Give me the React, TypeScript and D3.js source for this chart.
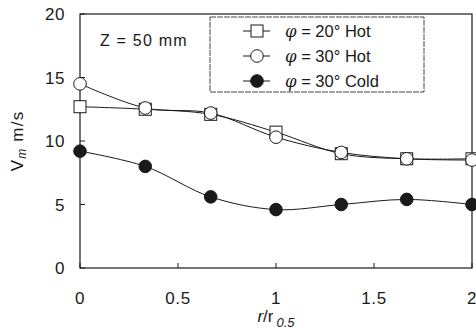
import React from "react";
import * as d3 from "d3";

const radius = [0, 0.333, 0.667, 1, 1.333, 1.667, 2];
const hot20 = [12.7, 12.5, 12.1, 10.7, 9.0, 8.6, 8.6];
const hot30 = [14.5, 12.6, 12.2, 10.3, 9.1, 8.6, 8.5];
const cold30 = [9.2, 8.0, 5.6, 4.6, 5.0, 5.4, 5.0];
const xTicks = [0, 0.5, 1, 1.5, 2];
const yTicks = [0, 5, 10, 15, 20];
const seriesNames = ["\u03c6 = 20\u00b0 Hot", "\u03c6 = 30\u00b0 Hot", "\u03c6 = 30\u00b0 Cold"];

const W = 476;
const H = 331;
const margin = { top: 14, right: 4, bottom: 63, left: 80 };
const font = "'Liberation Sans', Arial, sans-serif";
const ink = "#1a1a1a";

const Marker = ({ kind, x, y }: { kind: number; x: number; y: number }) => {
  if (kind === 0)
    return <rect x={x - 6} y={y - 6} width={12} height={12} fill="#fff" stroke={ink} strokeWidth={1} />;
  return <circle cx={x} cy={y} r={6.3} fill={kind === 2 ? ink : "#fff"} stroke={ink} strokeWidth={1} />;
};

const App = () => {
  const iw = W - margin.left - margin.right;
  const ih = H - margin.top - margin.bottom;
  const x = d3.scaleLinear().domain([0, 2]).range([0, iw]);
  const y = d3.scaleLinear().domain([0, 20]).range([ih, 0]);
  const line = d3
    .line<number>()
    .x((_, i) => x(radius[i]))
    .y((d) => y(d))
    .curve(d3.curveCatmullRom);

  const series = [hot20, hot30, cold30];

  return (
    <svg width={W} height={H} style={{ position: "absolute", left: 0, top: 0 }} fontFamily={font}>
      <rect width={W} height={H} fill="#fff" />
      <g transform={`translate(${margin.left},${margin.top})`}>
        <rect x={0} y={0} width={iw} height={ih} fill="none" stroke={ink} strokeWidth={1.2} />
        {xTicks.map((t) => (
          <g key={"x" + t}>
            <line x1={x(t)} x2={x(t)} y1={ih} y2={ih - 5} stroke={ink} />
            <text x={x(t)} y={ih + 36} textAnchor="middle" fontSize={17} letterSpacing={0.6} fill={ink}>
              {t}
            </text>
          </g>
        ))}
        {yTicks.map((t) => (
          <g key={"y" + t}>
            <line x1={0} x2={5} y1={y(t)} y2={y(t)} stroke={ink} />
            <text x={-15} y={y(t) + 6} textAnchor="end" fontSize={17} letterSpacing={0.6} fill={ink}>
              {t}
            </text>
          </g>
        ))}
        {series.map((s, k) => (
          <path key={"l" + k} d={line(s) || ""} fill="none" stroke={ink} strokeWidth={1} />
        ))}
        {series.map((s, k) =>
          s.map((v, i) => <Marker key={k + "-" + i} kind={k} x={x(radius[i])} y={y(v)} />)
        )}
        <text x={20} y={32} fontSize={16} letterSpacing={1.2} fill={ink}>
          Z = 50 mm
        </text>
        <rect x={130} y={3} width={214} height={75} fill="#fff" stroke={ink} strokeWidth={0.8} strokeDasharray="6 1" />
        {seriesNames.map((n, k) => (
          <g key={"lg" + k} transform={`translate(0,${17 + k * 25})`}>
            <line x1={163} x2={190} y1={0} y2={0} stroke={ink} />
            <Marker kind={k} x={177} y={0} />
            <text x={205} y={6} fontSize={16.5} fill={ink}>
              <tspan fontStyle="italic" fontFamily="'DejaVu Serif', serif">{"\u03c6"}</tspan>
              {n.slice(1)}
            </text>
          </g>
        ))}
      </g>
      <text x={(margin.left + W - margin.right) / 2} y={322} textAnchor="middle" fontSize={17} fill={ink}>
        <tspan fontStyle="italic">r</tspan>/r
        <tspan fontStyle="italic" fontSize={13} dx={3} dy={5}>0.5</tspan>
      </text>
      <text transform={`translate(23,${margin.top + ih / 2}) rotate(-90)`} textAnchor="middle" fontSize={17} letterSpacing={1.2} fill={ink}>
        V<tspan fontStyle="italic" fontSize={12} dy={3}>m</tspan>
        <tspan dy={-3}> m/s</tspan>
      </text>
    </svg>
  );
};

export default App;
